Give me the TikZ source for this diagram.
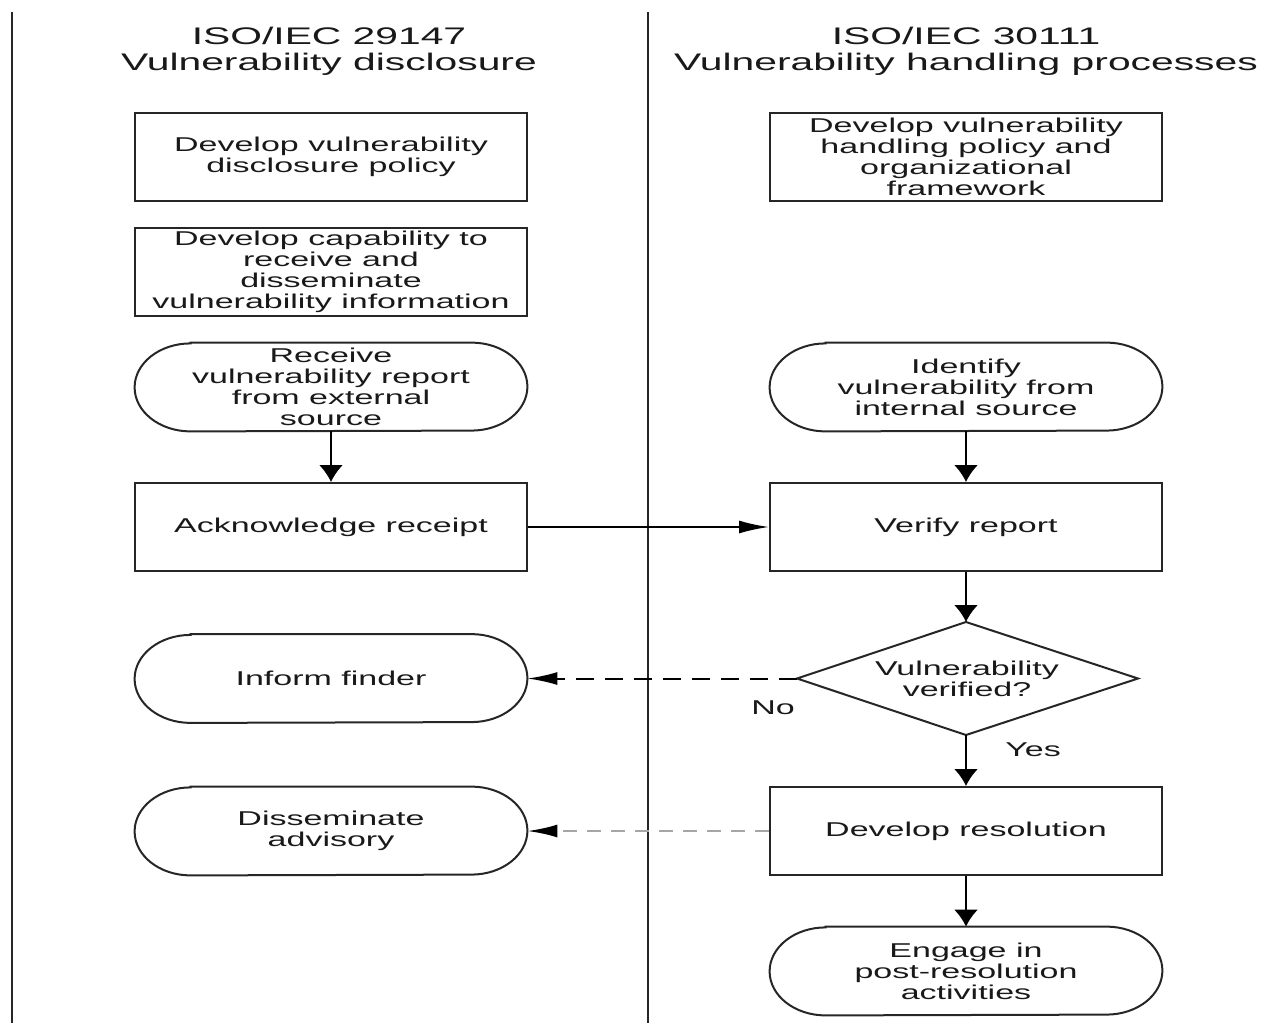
\documentclass[tikz,border=0pt]{standalone}
\usepackage{fontspec}
\setmainfont{Liberation Sans}[FakeStretch=1.7]
\usetikzlibrary{arrows.meta,shapes.geometric}
\newcommand\stadout[1]{%
  \draw[boxline] ([xshift=28pt]#1.north west) -- ([xshift=-28pt]#1.north east)
    arc[start angle=90,end angle=-90,x radius=28pt,y radius=22pt]
    -- ([xshift=28pt]#1.south west)
    arc[start angle=270,end angle=90,x radius=28pt,y radius=22pt] -- cycle;}
\tikzset{
  boxline/.style={line width=1pt,draw=black!85},
  basebox/.style={rectangle,align=center,inner sep=0pt,minimum width=196pt,minimum height=44pt,text=black!90},
  rectbox/.style={basebox,boxline},
  stadbox/.style={basebox,draw=none},
  dtext/.style={align=center,inner sep=0pt,text=black!90},
  titletext/.style={align=center,font=\fontsize{12pt}{13pt}\selectfont,text=black!90},
  lane/.style={line width=1.2pt,draw=black!85},
  varrow/.style={line width=1pt,-{Latex[length=8.5pt,width=12pt]}},
  harrow/.style={line width=1pt,-{Latex[length=15pt,width=6.5pt]}},
  nodash/.style={harrow,dash pattern=on 9pt off 5.5pt},
  graydash/.style={line width=1.2pt,draw=black!35,dash pattern=on 7pt off 5pt,-{Latex[length=15pt,width=6.5pt,black]}},
  lbl/.style={text=black!90}
}
\begin{document}
\begin{tikzpicture}[x=0.5pt,y=-0.5pt,font=\fontsize{10pt}{10.5pt}\selectfont]
\useasboundingbox (0,0) rectangle (1274,1023);
% lanes
\coordinate (l1t) at (12,12); \coordinate (l1b) at (12,1023);
\coordinate (l2t) at (648,12); \coordinate (l2b) at (648,1023);
\draw[lane] (l1t) -- (l1b);
\draw[lane] (l2t) -- (l2b);
% titles
\node[titletext] (t1) at (329,51) {ISO/IEC 29147\\Vulnerability disclosure};
\node[titletext] (t2) at (966,51) {ISO/IEC 30111\\Vulnerability handling processes};
% left column
\node[rectbox] (b1) at (331,157) {Develop vulnerability\\disclosure policy};
\node[rectbox] (b2) at (331,272) {Develop capability to\\receive and\\disseminate\\vulnerability information};
\node[stadbox] (b3) at (331,387) {Receive\\vulnerability report\\from external\\source};
\stadout{b3}
\node[rectbox] (b4) at (331,527) {Acknowledge receipt};
\node[stadbox] (b5) at (331,678.5) {Inform finder};
\stadout{b5}
\node[stadbox] (b6) at (331,831) {Disseminate\\advisory};
\stadout{b6}
% right column
\node[rectbox] (r1) at (966,157) {Develop vulnerability\\handling policy and\\organizational\\framework};
\node[stadbox] (r2) at (966,387) {Identify\\vulnerability from\\internal source};
\stadout{r2}
\node[rectbox] (r3) at (966,527) {Verify report};
% decision diamond
\coordinate (dl) at (797,678.5);
\coordinate (dr) at (1138,678.5);
\coordinate (dt) at (966,622);
\coordinate (db) at (966,735);
\draw[boxline] (dl) -- (dt) -- (dr) -- (db) -- cycle;
\node[dtext] (d) at (967,678.5) {Vulnerability\\verified?};
\node[rectbox] (r4) at (966,831) {Develop resolution};
\node[stadbox] (r5) at (966,971) {Engage in\\post-resolution\\activities};
\stadout{r5}
% connectors
\draw[varrow] (b3) -- (b4);
\draw[varrow] (r2) -- (r3);
\draw[harrow] (b4) -- (r3);
\draw[varrow] (r3.south) -- (dt);
\draw[nodash] (dl) -- (b5.east);
\draw[varrow] (db) -- (r4.north);
\draw[graydash] (r4.west) -- (b6.east);
\draw[varrow] (r4) -- (r5);
% labels
\node[lbl] (no) at (773,708) {No};
\node[lbl] (yes) at (1033,750) {Yes};
\end{tikzpicture}
\end{document}
